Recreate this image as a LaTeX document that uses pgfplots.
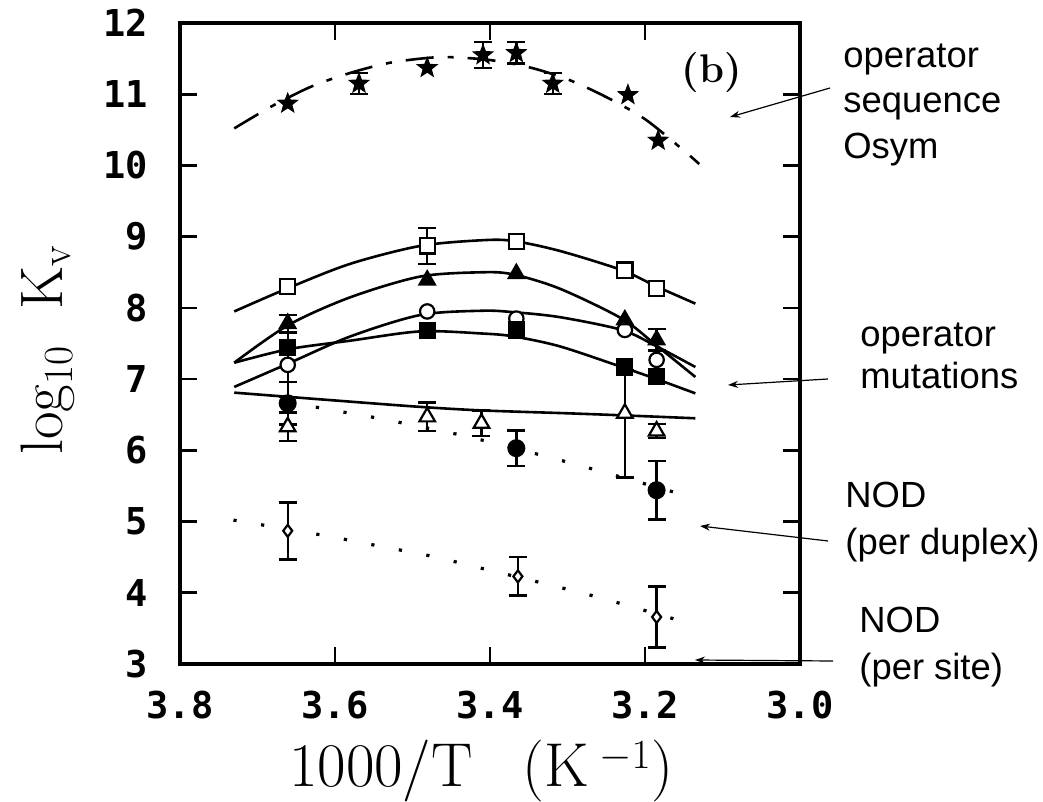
\documentclass[border=0pt]{standalone}
\usepackage{fontspec}
\usepackage{pgfplots}
\pgfplotsset{compat=1.18}
\usetikzlibrary{arrows.meta}
\newfontfamily\tickfont{DejaVu Sans Mono}
\newfontfamily\annfont{Liberation Sans}
\pgfdeclareplotmark{fstar}{%
 \pgfpathmoveto{\pgfpointpolar{90}{\pgfplotmarksize}}%
 \pgfpathlineto{\pgfpointpolar{126}{0.42\pgfplotmarksize}}%
 \pgfpathlineto{\pgfpointpolar{162}{\pgfplotmarksize}}%
 \pgfpathlineto{\pgfpointpolar{198}{0.42\pgfplotmarksize}}%
 \pgfpathlineto{\pgfpointpolar{234}{\pgfplotmarksize}}%
 \pgfpathlineto{\pgfpointpolar{270}{0.42\pgfplotmarksize}}%
 \pgfpathlineto{\pgfpointpolar{306}{\pgfplotmarksize}}%
 \pgfpathlineto{\pgfpointpolar{342}{0.42\pgfplotmarksize}}%
 \pgfpathlineto{\pgfpointpolar{18}{\pgfplotmarksize}}%
 \pgfpathlineto{\pgfpointpolar{54}{0.42\pgfplotmarksize}}%
 \pgfpathclose
 \pgfusepathqfillstroke}
\begin{document}
\begin{tikzpicture}
\path[use as bounding box] (-90pt,-69pt) rectangle (431.5pt,332pt);
\begin{axis}[
  scale only axis, width=310pt, height=320.5pt,
  xmin=3.0, xmax=3.8, ymin=3, ymax=12, x dir=reverse,
  xtick={3.0,3.2,3.4,3.6,3.8}, xticklabels={3.0,3.2,3.4,3.6,3.8},
  ytick={3,4,5,6,7,8,9,10,11,12}, yticklabels={3,4,5,6,7,8,9,10,11,12},
  tick align=inside, major tick length=8.5pt,
  axis line style={line width=2pt},
  every tick/.style={black, line width=1.3pt},
  xticklabel style={font=\tickfont\bfseries\fontsize{18.5}{20}\selectfont, inner sep=0pt, anchor=center, yshift=-20.5pt},
  yticklabel style={font=\tickfont\bfseries\fontsize{18.5}{20}\selectfont, inner sep=0pt, anchor=east, xshift=-16pt},
  xlabel={1000/T\hspace{0.8em}(K\,$^{-1}$)},
  xlabel style={font=\fontsize{31}{34}\selectfont, at={(axis description cs:0.486,-0.167)}, anchor=center, inner sep=0pt},
  ylabel={log$_{10}$\hspace{0.6em}K$_{\mathrm{v}}$},
  ylabel style={font=\fontsize{30}{34}\selectfont, at={(axis description cs:-0.213,0.49)}, anchor=center, inner sep=0pt},
  clip=false,
  error bars/error bar style={line width=1.2pt},
  error bars/error mark options={rotate=90, line width=1.2pt, mark size=4.5pt},
]
% ---- curves ----
\addplot[black, line width=1.3pt, smooth, dash pattern=on 14pt off 7pt on 3pt off 7pt] coordinates {
 (3.73,10.52) (3.68,10.84) (3.63,11.11) (3.58,11.30) (3.53,11.44) (3.48,11.51) (3.45,11.52)
 (3.40,11.48) (3.35,11.38) (3.30,11.21) (3.25,10.96) (3.20,10.65) (3.15,10.21) (3.13,10.02)};
\addplot[black, line width=1.3pt, smooth] coordinates {
 (3.73,7.95) (3.66,8.28) (3.58,8.62) (3.49,8.87) (3.41,8.95) (3.37,8.94) (3.31,8.80) (3.23,8.53) (3.185,8.30) (3.135,8.06)};
\addplot[black, line width=1.3pt, smooth] coordinates {
 (3.73,7.23) (3.66,7.76) (3.58,8.15) (3.49,8.44) (3.41,8.50) (3.37,8.47) (3.31,8.27) (3.23,7.85) (3.185,7.47) (3.135,7.03)};
\addplot[black, line width=1.3pt, smooth] coordinates {
 (3.73,6.89) (3.66,7.22) (3.58,7.60) (3.49,7.90) (3.41,7.96) (3.37,7.94) (3.31,7.87) (3.23,7.69) (3.185,7.46) (3.135,7.17)};
\addplot[black, line width=1.3pt, smooth] coordinates {
 (3.73,7.23) (3.66,7.42) (3.58,7.54) (3.49,7.67) (3.41,7.64) (3.37,7.60) (3.31,7.46) (3.23,7.17) (3.185,7.00) (3.135,6.80)};
\addplot[black, line width=1.3pt, smooth] coordinates {
 (3.73,6.81) (3.60,6.70) (3.49,6.61) (3.41,6.56) (3.30,6.52) (3.226,6.49) (3.135,6.45)};
\addplot[black, line width=1.6pt, smooth, dash pattern=on 1.6pt off 12.4pt] coordinates {
 (3.66,6.69) (3.617,6.59) (3.544,6.45) (3.436,6.21) (3.333,5.93) (3.262,5.72) (3.152,5.38)};
\addplot[black, line width=1.6pt, smooth, dash pattern=on 1.6pt off 12.4pt] coordinates {
 (3.731,5.02) (3.617,4.81) (3.545,4.66) (3.474,4.51) (3.402,4.32) (3.33,4.13) (3.258,3.93) (3.152,3.60)};
% ---- markers ----
% stars
\addplot[black, only marks, mark=fstar, mark size=5pt, mark options={fill=black, line width=0.6pt}] coordinates {
 (3.661,10.87) (3.481,11.37) (3.222,10.99) (3.183,10.35)};
\addplot[black, only marks, mark=fstar, mark size=5pt, mark options={fill=black, line width=0.6pt},
 error bars/.cd, y dir=both, y explicit] coordinates {
 (3.569,11.15) +- (0,0.15) (3.409,11.55) +- (0,0.18) (3.366,11.58) +- (0,0.15) (3.319,11.15) +- (0,0.15)};
% open circles
\addplot[black, only marks, mark=*, mark size=3.6pt, mark options={fill=white, line width=1.1pt}] coordinates {
 (3.481,7.95) (3.366,7.85) (3.226,7.69) (3.185,7.27)};
\addplot[black, only marks, mark=*, mark size=3.6pt, mark options={fill=white, line width=1.1pt},
 error bars/.cd, y dir=both, y explicit] coordinates {(3.661,7.20) +- (0,0.45)};
% open squares
\addplot[black, only marks, mark=square*, mark size=3.8pt, mark options={fill=white, line width=1.1pt}] coordinates {
 (3.661,8.30) (3.366,8.93) (3.226,8.53) (3.185,8.27)};
\addplot[black, only marks, mark=square*, mark size=3.8pt, mark options={fill=white, line width=1.1pt},
 error bars/.cd, y dir=both, y explicit] coordinates {(3.481,8.87) +- (0,0.25)};
% filled squares
\addplot[black, only marks, mark=square*, mark size=3.8pt, mark options={fill=black, line width=1pt}] coordinates {
 (3.661,7.44) (3.481,7.68) (3.366,7.69) (3.226,7.17) (3.185,7.04)};
% filled triangles
\addplot[black, only marks, mark=triangle*, mark size=4.5pt, mark options={fill=black, line width=1pt}] coordinates {
 (3.481,8.39) (3.366,8.48) (3.226,7.83)};
\addplot[black, only marks, mark=triangle*, mark size=4.5pt, mark options={fill=black, line width=1pt},
 error bars/.cd, y dir=both, y explicit] coordinates {(3.661,7.78) +- (0,0.12) (3.185,7.55) +- (0,0.15)};
% open triangles
\addplot[black, only marks, mark=triangle*, mark size=4.5pt, mark options={fill=white, line width=1.1pt},
 error bars/.cd, y dir=both, y explicit] coordinates {
 (3.661,6.33) +- (0,0.2) (3.481,6.47) +- (0,0.2) (3.411,6.38) +- (0,0.18)
 (3.226,6.52) += (0,0.6) -= (0,0.9) (3.185,6.27) +- (0,0.1)};
% filled circles
\addplot[black, only marks, mark=*, mark size=4pt, mark options={fill=black, line width=1pt},
 error bars/.cd, y dir=both, y explicit] coordinates {
 (3.661,6.66) +- (0,0.3) (3.366,6.03) +- (0,0.25) (3.185,5.44) +- (0,0.41)};
% open diamonds
\addplot[black, only marks, mark=diamond*, mark size=3pt, mark options={fill=white, line width=1.1pt},
 error bars/.cd, y dir=both, y explicit] coordinates {
 (3.661,4.87) +- (0,0.40) (3.364,4.23) +- (0,0.27) (3.185,3.66) +- (0,0.43)};
\end{axis}
\node[font=\bfseries\fontsize{20}{22}\selectfont, anchor=center, inner sep=0pt] at (266pt,295.5pt) {(b)};
\begin{scope}[every node/.style={font=\annfont\fontsize{18.2}{22}\selectfont, anchor=base west, inner sep=0pt}]
\node at (331.5pt,298pt) {operator};
\node at (331.5pt,275.5pt) {sequence};
\node at (331.5pt,252.5pt) {Osym};
\node at (340pt,158.5pt) {operator};
\node at (340pt,137.5pt) {mutations};
\node at (332.5pt,78pt) {NOD};
\node at (332.5pt,54.5pt) {(per duplex)};
\node at (339.5pt,15.5pt) {NOD};
\node at (339.5pt,-8pt) {(per site)};
\end{scope}
\begin{scope}[line width=0.6pt, -{Stealth[length=5pt,width=3.5pt]}]
\draw (325pt,288pt) -- (275pt,273.5pt);
\draw (324pt,142.5pt) -- (274pt,139.5pt);
\draw (324pt,61.5pt) -- (260pt,69pt);
\draw (326.5pt,1.5pt) -- (257.5pt,2pt);
\end{scope}
\end{tikzpicture}
\end{document}
